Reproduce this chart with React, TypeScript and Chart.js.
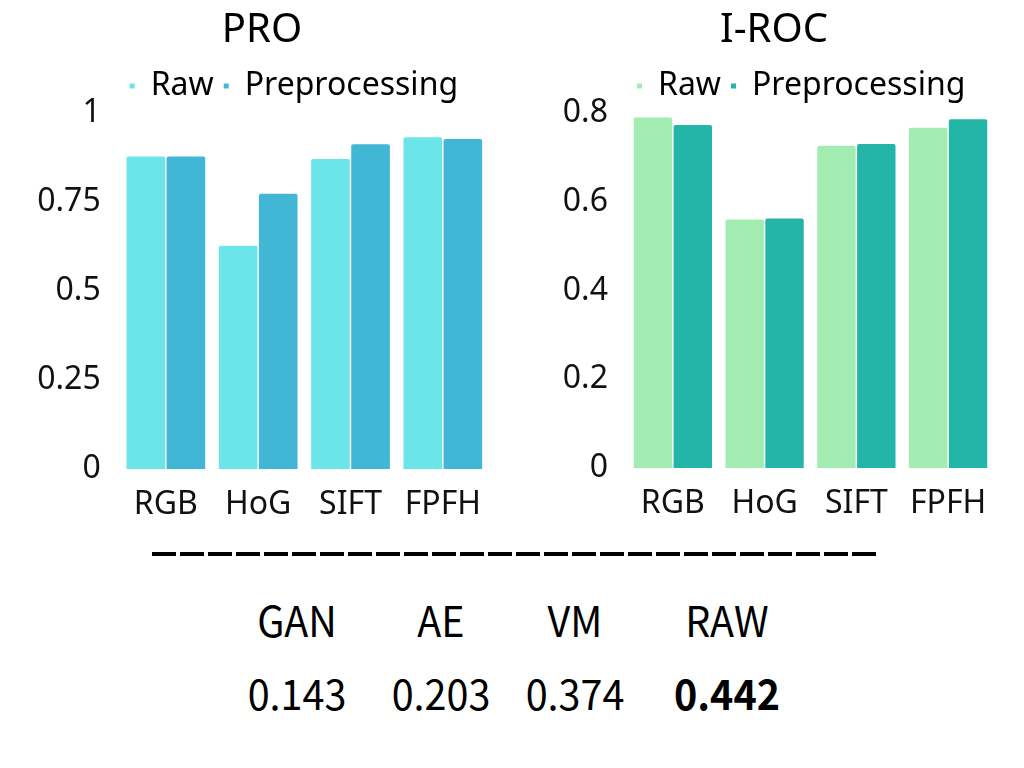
import React, { useEffect, useRef } from 'react';
import { Chart, registerables } from 'chart.js';

Chart.register(...registerables);

// ---- data ----
const categories = ['RGB', 'HoG', 'SIFT', 'FPFH'];
const seriesNames = ['Raw', 'Preprocessing'];

const proRaw = [0.878, 0.627, 0.871, 0.932];
const proPre = [0.878, 0.773, 0.912, 0.927];
const proTicks = [0, 0.25, 0.5, 0.75, 1];

const rocRaw = [0.79, 0.56, 0.726, 0.767];
const rocPre = [0.773, 0.562, 0.73, 0.786];
const rocTicks = [0, 0.2, 0.4, 0.6, 0.8];

const methods = ['GAN', 'AE', 'VM', 'RAW'];
const methodScores = [0.143, 0.203, 0.374, 0.442];

// ---- styles ----
const FONT = '"Noto Sans", "DejaVu Sans", sans-serif';
const TABLE_FONT = '"Noto Sans CJK SC", "Noto Sans", sans-serif';

type BarProps = {
  title: string;
  raw: number[];
  pre: number[];
  ticks: number[];
  yMax: number;
  colors: [string, string];
  width: number;
  height: number;
  padLeft: number;
  axisWidth: number;
  padRight: number;
  bottomH: number;
};

function BarChart(p: BarProps) {
  const ref = useRef<HTMLCanvasElement | null>(null);
  useEffect(() => {
    if (!ref.current) return;
    const radius = { topLeft: 2, topRight: 2, bottomLeft: 0, bottomRight: 0 };
    const chart = new Chart(ref.current, {
      type: 'bar',
      data: {
        labels: categories,
        datasets: [
          { label: seriesNames[0], data: p.raw, backgroundColor: p.colors[0], borderRadius: radius, borderSkipped: false },
          { label: seriesNames[1], data: p.pre, backgroundColor: p.colors[1], borderRadius: radius, borderSkipped: false },
        ],
      },
      options: {
        responsive: false,
        animation: false,
        layout: { padding: { left: p.padLeft, right: p.padRight, top: 0, bottom: 0 } },
        datasets: { bar: { categoryPercentage: 0.868, barPercentage: 0.965 } },
        plugins: {
          title: {
            display: true,
            text: p.title,
            color: '#000',
            font: { family: FONT, size: 40, weight: 'normal', lineHeight: 1 },
            padding: { top: 11, bottom: 9 },
          },
          legend: {
            display: true,
            position: 'top',
            align: 'start',
            fullSize: false,
            labels: {
              boxWidth: 5,
              boxHeight: 5,
              padding: 10,
              color: '#000',
              font: { family: FONT, size: 32 },
            },
          },
          tooltip: { enabled: false },
        },
        scales: {
          x: {
            grid: { display: false, drawTicks: false },
            border: { display: false },
            ticks: { color: '#111', font: { family: FONT, size: 32 }, padding: 17, maxRotation: 0, autoSkip: false },
            afterFit: (s: any) => { s.height = p.bottomH; },
          },
          y: {
            min: 0,
            max: p.yMax,
            grid: { display: false, drawTicks: false },
            border: { display: false },
            ticks: { color: '#111', font: { family: FONT, size: 32 }, padding: 19, callback: (v: any) => String(v) },
            afterBuildTicks: (s: any) => { s.ticks = p.ticks.map((v) => ({ value: v })); },
            afterFit: (s: any) => { s.width = p.axisWidth; },
          },
        },
      } as any,
    });
    return () => chart.destroy();
  }, []);
  return <canvas ref={ref} width={p.width} height={p.height} style={{ width: p.width, height: p.height, display: 'block' }} />;
}

const headCenters = [297, 441, 575, 727];

export default function App() {
  const maxScore = Math.max(...methodScores);
  const cell = (top: number): React.CSSProperties => ({
    position: 'absolute',
    width: 160,
    top,
    textAlign: 'center',
    fontFamily: TABLE_FONT,
    fontSize: 42,
    lineHeight: '42px',
    color: '#000',
    transform: 'scaleX(0.94)',
  });
  return (
    <div style={{ position: 'fixed', left: 0, top: 0, width: 1024, height: 768, background: '#fff', overflow: 'hidden' }}>
      <div style={{ position: 'absolute', left: 0, top: 0 }}>
        <BarChart
          title="PRO"
          raw={proRaw}
          pre={proPre}
          ticks={proTicks}
          yMax={1 + 1 / 356}
          colors={['#6ce5e8', '#41b7d5']}
          width={524}
          height={540}
          padLeft={35}
          axisWidth={84.7}
          padRight={35}
          bottomH={71}
        />
      </div>
      <div style={{ position: 'absolute', left: 524, top: 0 }}>
        <BarChart
          title="I-ROC"
          raw={rocRaw}
          pre={rocPre}
          ticks={rocTicks}
          yMax={0.8 + (1 * 0.8) / 355}
          colors={['#a3ecb1', '#22b5a8']}
          width={500}
          height={540}
          padLeft={30}
          axisWidth={73}
          padRight={30}
          bottomH={72}
        />
      </div>
      <div
        style={{
          position: 'absolute',
          left: 152,
          top: 552,
          width: 724,
          height: 4,
          background: 'repeating-linear-gradient(to right, #000 0px, #000 24px, transparent 24px, transparent 28px)',
        }}
      />
      {methods.map((m, i) => (
        <div key={m} style={{ ...cell(598), left: headCenters[i] - 80 }}>
          {m}
        </div>
      ))}
      {methodScores.map((v, i) => (
        <div
          key={'v' + i}
          style={{ ...cell(671), left: headCenters[i] - 80, fontWeight: v === maxScore ? 700 : 400 }}
        >
          {v.toFixed(3)}
        </div>
      ))}
    </div>
  );
}
